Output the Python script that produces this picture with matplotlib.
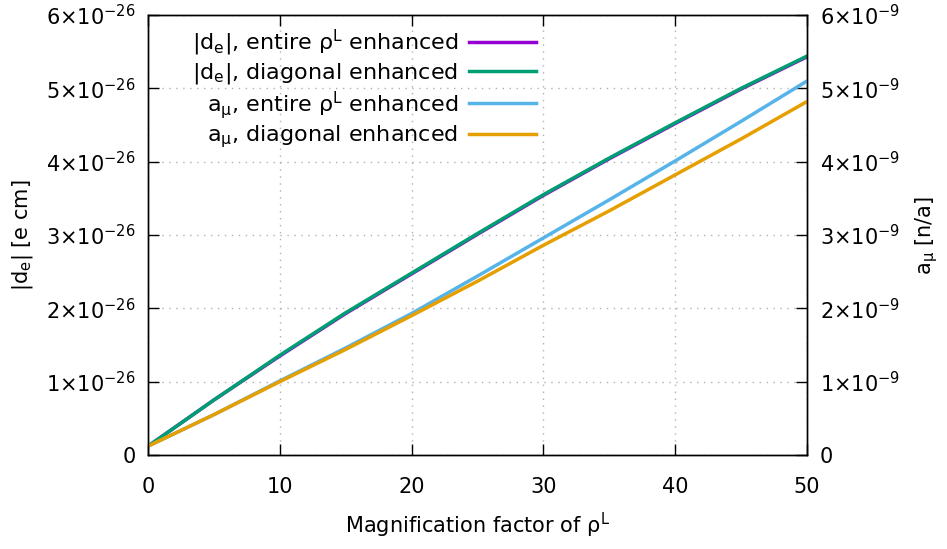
import numpy as np
import matplotlib
matplotlib.use('Agg')
import matplotlib.pyplot as plt

# magnification factor (x axis)
factor = [0, 5, 10, 15, 20, 25, 30, 35, 40, 45, 50]

# |d_e| in units of 1e-26 e cm (entire and diagonal are practically identical)
de_entire = [0.12, 0.75, 1.35, 1.93, 2.47, 3.01, 3.54, 4.04, 4.52, 4.99, 5.43]
de_diag = [0.12, 0.75, 1.36, 1.94, 2.48, 3.02, 3.55, 4.05, 4.53, 5.00, 5.44]

# a_mu in units of 1e-9
amu_entire = [0.12, 0.55, 1.01, 1.46, 1.93, 2.44, 2.96, 3.48, 4.01, 4.55, 5.10]
amu_diag = [0.12, 0.55, 1.00, 1.44, 1.90, 2.37, 2.86, 3.33, 3.82, 4.31, 4.82]

xticks = [0, 10, 20, 30, 40, 50]
left_ticks = [0, 1e-26, 2e-26, 3e-26, 4e-26, 5e-26, 6e-26]
left_labels = ['0'] + [r'$\mathregular{%d{\times}10^{-26}}$' % i for i in range(1, 7)]
right_ticks = [0, 1e-9, 2e-9, 3e-9, 4e-9, 5e-9, 6e-9]
right_labels = ['0'] + [r'$\mathregular{%d{\times}10^{-9}}$' % i for i in range(1, 7)]

plt.rcParams['font.family'] = ['DejaVu Sans']
plt.rcParams['font.size'] = 15

fig = plt.figure(figsize=(9.47, 5.49), dpi=100)
ax = fig.add_axes([148 / 947, 1 - 455 / 549, (807 - 148) / 947, (455 - 15) / 549])
ax2 = ax.twinx()

x = np.array(factor)
l1, = ax.plot(x, np.array(de_entire) * 1e-26, color='#9400d3', lw=2.5)
l2, = ax.plot(x, np.array(de_diag) * 1e-26, color='#009e73', lw=2.5)
l3, = ax2.plot(x, np.array(amu_entire) * 1e-9, color='#56b4e9', lw=2.5)
l4, = ax2.plot(x, np.array(amu_diag) * 1e-9, color='#e69f00', lw=2.5)

ax.set_xlim(0, 50)
ax.set_ylim(0, 6e-26)
ax2.set_ylim(0, 6e-9)
ax.set_xticks(xticks)
ax.set_yticks(left_ticks)
ax.set_yticklabels(left_labels)
ax2.set_yticks(right_ticks)
ax2.set_yticklabels(right_labels)

ax.grid(True, linestyle=(0, (1, 4)), color='#b0b0b0', lw=1)
ax.tick_params(axis='x', direction='in', length=8, width=1, top=True, pad=16)
ax.tick_params(axis='y', direction='in', length=8, width=1, pad=9)
ax2.tick_params(axis='y', direction='in', length=8, width=1, pad=9)
for a in (ax, ax2):
    for s in a.spines.values():
        s.set_linewidth(1)

ax.set_xlabel(r'Magnification factor of $\mathregular{ρ^L}$', labelpad=10)
ax.set_ylabel(r'$\mathregular{|d_e|}$ [e cm]', labelpad=8)
ax2.set_ylabel(r'$\mathregular{a_μ}$ [n/a]', labelpad=10)

labels = [r'$\mathregular{|d_e|}$, entire $\mathregular{ρ^L}$ enhanced',
          r'$\mathregular{|d_e|}$, diagonal enhanced',
          r'$\mathregular{a_μ}$, entire $\mathregular{ρ^L}$ enhanced',
          r'$\mathregular{a_μ}$, diagonal enhanced']
ax2.legend([l1, l2, l3, l4], labels, loc='upper right', markerfirst=False,
           bbox_to_anchor=(536 / 947, 1 - 28 / 549), bbox_transform=fig.transFigure,
           frameon=False, handlelength=3.0, handletextpad=0.5, labelspacing=0.12,
           borderaxespad=0, borderpad=0, fontsize=16)

fig.savefig('out.png', dpi=100)
